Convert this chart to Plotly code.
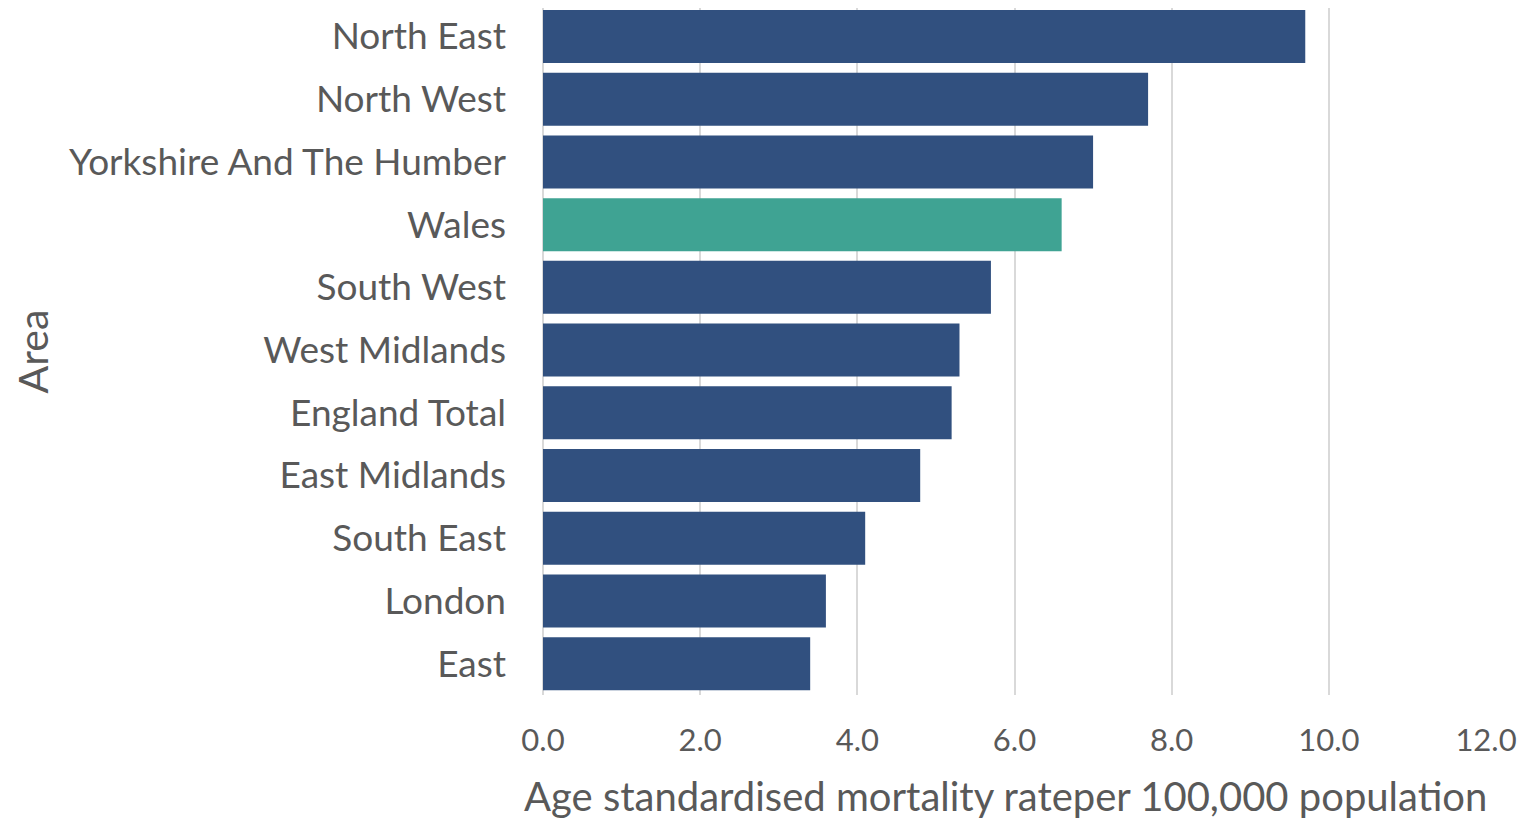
import plotly.graph_objects as go

areas = ["North East", "North West", "Yorkshire And The Humber", "Wales", "South West",
         "West Midlands", "England Total", "East Midlands", "South East", "London", "East"]
rates = [9.7, 7.7, 7.0, 6.6, 5.7, 5.3, 5.2, 4.8, 4.1, 3.6, 3.4]
tick_vals = [0, 2, 4, 6, 8, 10, 12]
tick_text = ["0.0", "2.0", "4.0", "6.0", "8.0", "10.0", "12.0"]
x_title = "Age standardised mortality rateper 100,000 population"
y_title = "Area"

navy = "#31507f"
teal = "#3fa393"
grey = "#595959"
colors = [teal if a == "Wales" else navy for a in areas]

fig = go.Figure(go.Bar(
    x=rates, y=areas, orientation="h",
    marker=dict(color=colors, line=dict(width=0)),
))

font_family = "Lato, 'Open Sans', sans-serif"
fig.update_layout(
    width=1520, height=816,
    paper_bgcolor="white", plot_bgcolor="white",
    margin=dict(l=535, r=42, t=0, b=129),
    bargap=0.155,
    showlegend=False,
    font=dict(family=font_family, color=grey, size=30),
    annotations=[
        dict(text=x_title, xref="paper", yref="paper", x=0.49, y=-101 / 687,
             xanchor="center", yanchor="middle", showarrow=False,
             font=dict(size=40, color=grey)),
        dict(text=y_title, xref="paper", yref="paper", x=(32 - 543) / 943, y=0.5,
             xanchor="center", yanchor="middle", showarrow=False, textangle=-90,
             font=dict(size=41, color=grey)),
    ],
)
fig.update_xaxes(
    range=[0, 12], tickvals=tick_vals, ticktext=tick_text,
    showgrid=True, gridcolor="#d9d9d9", gridwidth=2,
    zeroline=True, zerolinecolor="#d9d9d9", zerolinewidth=2,
    showline=False, ticks="", automargin=False, ticklabelstandoff=24,
    tickfont=dict(size=31, color=grey),
)
fig.update_yaxes(
    range=[10.5, -0.4545], showgrid=False, ticks="", ticklabelstandoff=36,
    automargin=False,
    tickfont=dict(size=37, color=grey),
)
fig.write_html("out.html")
